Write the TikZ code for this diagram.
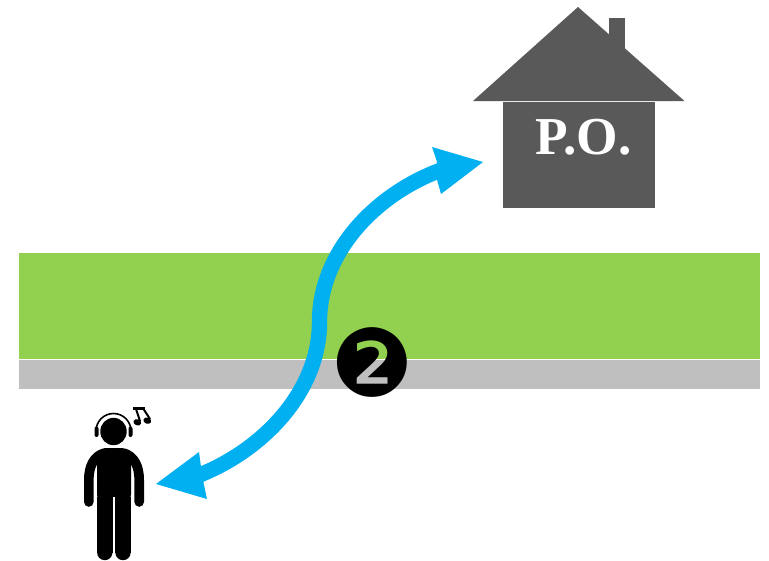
\documentclass[tikz,border=0pt]{standalone}
\usepackage{fontspec}
\setmainfont{Liberation Serif}
\newfontfamily\dejavu{DejaVu Sans}
\definecolor{roadgreen}{HTML}{92D050}
\definecolor{roadgray}{HTML}{BFBFBF}
\definecolor{housegray}{HTML}{595959}
\definecolor{arrowblue}{HTML}{00B0F0}
\tikzset{
  x=0.75pt,y=-0.75pt,
  limb/.style={draw=black,line cap=round,line join=round},
  shaft/.style={draw=arrowblue,line width=11.5pt},
  tiphead/.style={fill=arrowblue,draw=none},
  housepart/.style={fill=housegray,draw=none},
}
\begin{document}
\begin{tikzpicture}
\useasboundingbox (0,0) rectangle (769,561);
% road
\fill[roadgreen] (19,253) rectangle (760,359);
\fill[roadgray] (19,360) rectangle (760,388.5);
% house
\fill[housepart] (609,18) rectangle (625,60);
\fill[housepart] (578,7) -- (684.5,101) -- (473,101) -- cycle;
\fill[housepart] (503,102) rectangle (655,208);
\node[text=white,font=\fontsize{40}{40}\selectfont\bfseries,inner sep=0pt,anchor=center] (po) at (583.5,137) {P.O.};
% number
\node[font=\dejavu\fontsize{70}{70}\selectfont,inner sep=0pt,text=black] (num) at (372.5,362) {❷};
% arrow
\coordinate (a) at (197,476);
\coordinate (m) at (319.5,322);
\coordinate (b) at (441,170);
\draw[shaft] (a) .. controls (262,451) and (319.5,392) .. (m) .. controls (319.5,252) and (376,194) .. (b);
\fill[tiphead] (156,484) -- (199,452) -- (201,467) -- (203,480) -- (207,499) -- cycle;
\fill[tiphead] (483,162) -- (432,147) -- (437,162) -- (436,176) -- (441,194) -- cycle;
% person
\fill (113.5,431.5) circle[x radius=13.2,y radius=13.7];
\draw[line width=1.2pt,line cap=butt] (96,431) arc[start angle=180,end angle=360,radius=17.5];
\fill[rounded corners=1.5] (94.5,426.5) rectangle (98.5,437);
\fill[rounded corners=1.5] (128.5,426.5) rectangle (132.5,437);
\fill[rounded corners=8] (97,448) -- (97,505) -- (131,505) -- (131,448) -- cycle;
\fill[rounded corners=4] (100,448) rectangle (127,470);
\draw[limb,line width=7.2pt] (104.5,453) .. controls (94,456) and (88.8,466) .. (88.8,480) -- (88.8,502);
\draw[limb,line width=7.2pt] (123.5,453) .. controls (134,456) and (139.2,466) .. (139.2,480) -- (139.2,502);
\draw[limb,line width=11.6pt,line cap=butt] (104.8,497) -- (104.8,552.5);
\draw[limb,line width=11.6pt,line cap=butt] (123,497) -- (123,552.5);
\fill (104.8,552.5) circle[radius=7.7];
\fill (123,552.5) circle[radius=7.7];
\fill[white] (112.6,497) rectangle (115.2,561);
% music note
\fill[rotate around={-20:(137.3,422.3)}] (137.3,422.3) ellipse[x radius=4,y radius=3.1];
\fill[rotate around={-20:(147.3,420.7)}] (147.3,420.7) ellipse[x radius=4,y radius=3.1];
\draw[line width=1.5pt] (140,421) -- (136,409);
\draw[line width=1.5pt] (150,419) -- (143.5,409);
\draw[line width=2.2pt] (133,408.5) -- (144.5,408.5);
\end{tikzpicture}
\end{document}
